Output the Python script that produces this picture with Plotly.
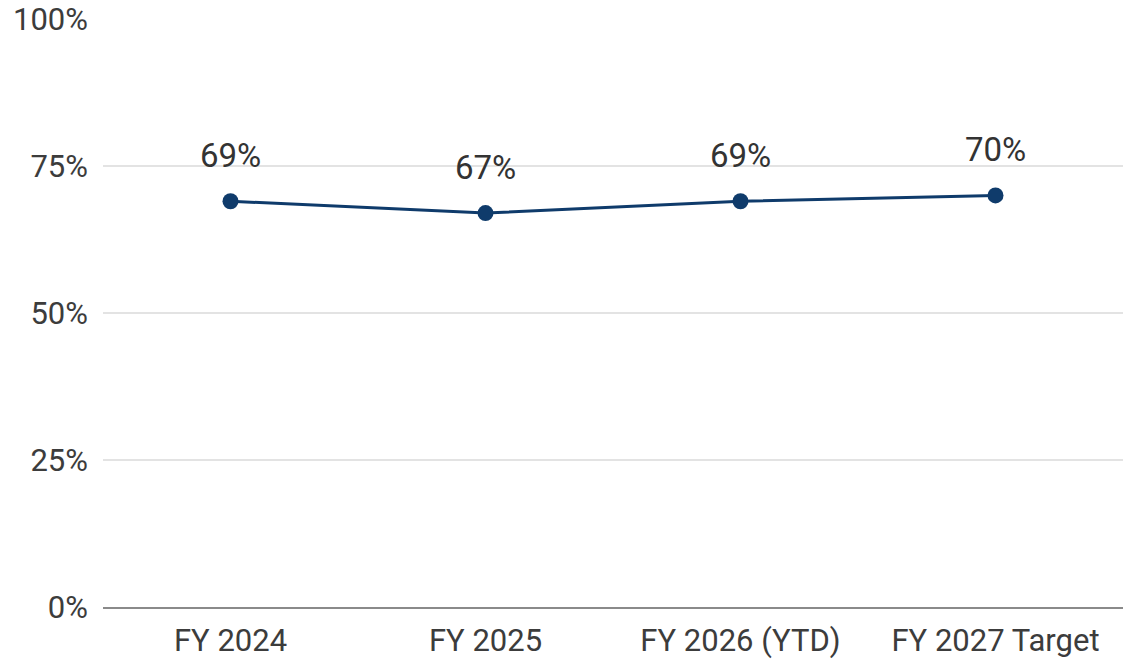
import plotly.graph_objects as go

# Fiscal-year rate series
categories = ["FY 2024", "FY 2025", "FY 2026 (YTD)", "FY 2027 Target"]
rates = [69, 67, 69, 70]
labels = ["69%", "67%", "69%", "70%"]
y_ticks = [0, 25, 50, 75, 100]
y_tick_text = ["0%", "25%", "50%", "75%", "100%"]

NAVY = "#0f3b6b"
FONT = "Roboto"

fig = go.Figure()
fig.add_trace(go.Scatter(
    x=categories,
    y=rates,
    mode="lines+markers",
    line=dict(color=NAVY, width=3),
    marker=dict(color=NAVY, size=16),
    hoverinfo="skip",
    showlegend=False,
))

# Value labels above each point
for cat, val, txt in zip(categories, rates, labels):
    fig.add_annotation(
        x=cat, y=val, text=txt, showarrow=False,
        yshift=46, font=dict(family=FONT, size=33, color="#333333"),
    )

fig.update_layout(
    width=1128, height=662,
    margin=dict(l=103, r=5, t=19, b=55),
    paper_bgcolor="white", plot_bgcolor="white",
    font=dict(family=FONT),
)
fig.update_xaxes(
    type="category",
    range=[-0.5, 3.5],
    automargin=False,
    showgrid=False,
    showline=True, linecolor="#8a8a8a", linewidth=2,
    ticks="", ticklabelstandoff=5,
    tickfont=dict(family=FONT, size=31, color="#3c3c3c"),
)
fig.update_yaxes(
    range=[0, 100],
    automargin=False,
    tickvals=y_ticks, ticktext=y_tick_text,
    showgrid=True, gridcolor="#e3e3e3", gridwidth=2,
    zeroline=False, showline=False,
    ticks="", ticklabelstandoff=14,
    tickfont=dict(family=FONT, size=31, color="#3c3c3c"),
)

fig.write_html("out.html")
